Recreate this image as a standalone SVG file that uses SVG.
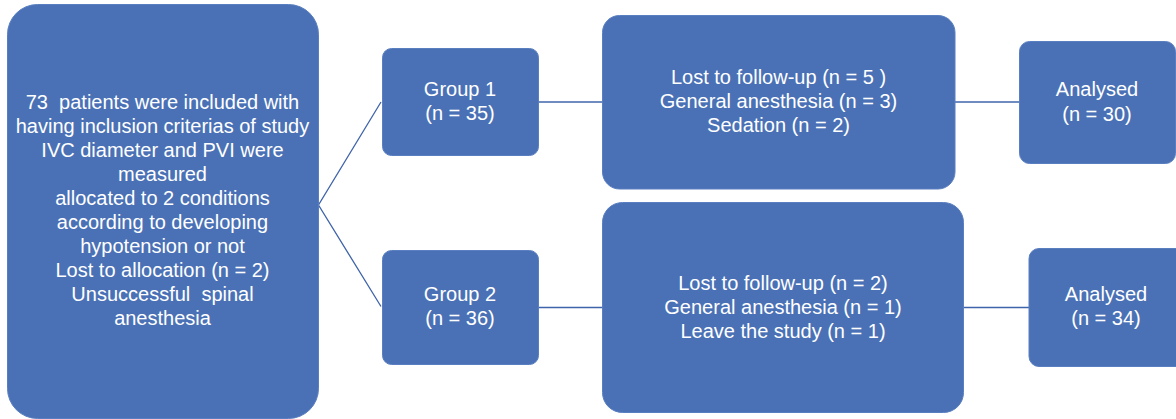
<svg xmlns="http://www.w3.org/2000/svg" width="1176" height="419" viewBox="0 0 1176 419">
<style>
.box{fill:#4A71B6;stroke:#5A7FC0;stroke-width:1}
.t{font-family:"Liberation Sans",Arial,sans-serif;font-size:20px;fill:#FFFFFF;text-anchor:middle;white-space:pre}
.c{stroke:#3F64AA;stroke-width:1.3;fill:none}
</style>
<rect width="1176" height="419" fill="#FFFFFF"/>
<g id="connectors">
<polyline class="c" points="381,102 318.5,205 381,306.5"/>
<line class="c" x1="538" y1="102" x2="602" y2="102"/>
<line class="c" x1="538" y1="307.5" x2="602" y2="307.5"/>
<line class="c" x1="955" y1="102" x2="1019" y2="102"/>
<line class="c" x1="963" y1="307.5" x2="1029" y2="307.5"/>
</g>
<g id="start">
<rect class="box" x="7.5" y="4.5" width="311" height="414" rx="30"/>
<text class="t" xml:space="preserve"><tspan x="162.5" y="109">73  patients were included with</tspan><tspan x="162.5" y="133">having inclusion criterias of study</tspan><tspan x="162.5" y="157">IVC diameter and PVI were</tspan><tspan x="162.5" y="181">measured</tspan><tspan x="162.5" y="205">allocated to 2 conditions</tspan><tspan x="162.5" y="229">according to developing</tspan><tspan x="162.5" y="253">hypotension or not</tspan><tspan x="162.5" y="277">Lost to allocation (n = 2)</tspan><tspan x="162.5" y="301">Unsuccessful  spinal</tspan><tspan x="162.5" y="325">anesthesia</tspan></text>
</g>
<g id="group1">
<rect class="box" x="382.5" y="48.5" width="156" height="107" rx="9"/>
<text class="t"><tspan x="460" y="96">Group 1</tspan><tspan x="460" y="120">(n = 35)</tspan></text>
</g>
<g id="group2">
<rect class="box" x="382.5" y="250.5" width="156" height="114" rx="9"/>
<text class="t"><tspan x="460" y="301">Group 2</tspan><tspan x="460" y="325">(n = 36)</tspan></text>
</g>
<g id="lost1">
<rect class="box" x="602.5" y="15.5" width="352.5" height="173.5" rx="17"/>
<text class="t"><tspan x="778.5" y="84">Lost to follow-up (n = 5 )</tspan><tspan x="778.5" y="108">General anesthesia (n = 3)</tspan><tspan x="778.5" y="132">Sedation (n = 2)</tspan></text>
</g>
<g id="lost2">
<rect class="box" x="602.5" y="202.5" width="361" height="210" rx="20"/>
<text class="t"><tspan x="783" y="289.5">Lost to follow-up (n = 2)</tspan><tspan x="783" y="313.5">General anesthesia (n = 1)</tspan><tspan x="783" y="337.5">Leave the study (n = 1)</tspan></text>
</g>
<g id="analysed1">
<rect class="box" x="1019.5" y="41.5" width="156" height="122" rx="10"/>
<text class="t"><tspan x="1097" y="96">Analysed</tspan><tspan x="1097" y="120.5">(n = 30)</tspan></text>
</g>
<g id="analysed2">
<rect class="box" x="1029" y="248.5" width="160" height="118" rx="10"/>
<text class="t"><tspan x="1106" y="301">Analysed</tspan><tspan x="1106" y="325">(n = 34)</tspan></text>
</g>
</svg>
